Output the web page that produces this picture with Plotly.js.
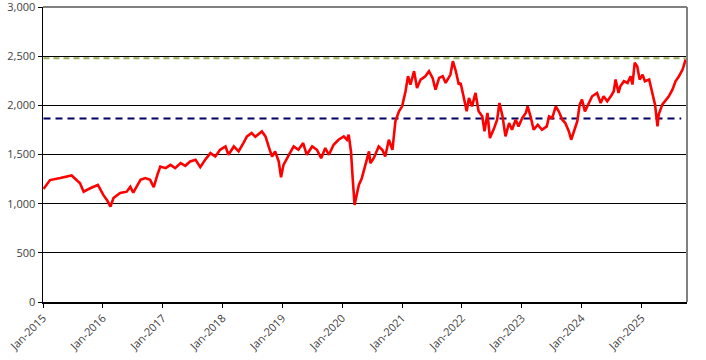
<!DOCTYPE html>
<html>
<head>
<meta charset="utf-8">
<script src="https://cdn.plot.ly/plotly-3.0.1.min.js"></script>
<style>html,body{margin:0;padding:0;background:#fff;}#chart{width:706px;height:360px;}</style>
</head>
<body>
<div id="chart"></div>
<script>
// Time as decimal years
const yearFrac = [
2015.01,2015.12,2015.29,2015.48,2015.62,2015.68,2015.79,2015.92,2016.01,2016.07,
2016.13,2016.18,2016.29,2016.40,2016.46,2016.51,2016.63,2016.71,2016.79,2016.85,
2016.91,2016.96,2017.05,2017.13,2017.21,2017.30,2017.38,2017.46,2017.55,2017.63,
2017.71,2017.80,2017.88,2017.96,2018.05,2018.10,2018.19,2018.27,2018.35,2018.41,
2018.49,2018.55,2018.66,2018.72,2018.77,2018.83,2018.88,2018.94,2018.98,2019.02,
2019.11,2019.19,2019.27,2019.35,2019.41,2019.50,2019.58,2019.65,2019.72,2019.78,
2019.86,2019.94,2020.03,2020.08,2020.11,2020.15,2020.18,2020.21,2020.25,2020.28,
2020.33,2020.39,2020.45,2020.47,2020.53,2020.61,2020.67,2020.72,2020.78,2020.84,
2020.89,2020.95,2021.00,2021.06,2021.10,2021.14,2021.20,2021.25,2021.31,2021.39,
2021.45,2021.51,2021.56,2021.62,2021.68,2021.73,2021.81,2021.85,2021.90,2021.95,
2021.98,2022.03,2022.08,2022.12,2022.17,2022.23,2022.28,2022.34,2022.38,2022.43,
2022.47,2022.54,2022.59,2022.63,2022.68,2022.73,2022.79,2022.84,2022.90,2022.95,
2023.01,2023.07,2023.10,2023.15,2023.20,2023.27,2023.34,2023.42,2023.46,2023.51,
2023.57,2023.62,2023.68,2023.73,2023.79,2023.83,2023.87,2023.93,2023.97,2024.01,
2024.06,2024.12,2024.18,2024.26,2024.32,2024.37,2024.43,2024.49,2024.54,2024.57,
2024.62,2024.65,2024.71,2024.77,2024.82,2024.85,2024.89,2024.93,2024.97,2025.02,
2025.06,2025.13,2025.18,2025.23,2025.27,2025.29,2025.35,2025.41,2025.46,2025.52,
2025.57,2025.63,2025.69,2025.74
];
const seriesValues = [
1150,1240,1260,1286,1208,1122,1157,1190,1089,1038,
970,1058,1109,1122,1173,1112,1242,1260,1242,1167,
1293,1378,1361,1395,1361,1412,1385,1429,1446,1371,
1446,1514,1480,1548,1582,1497,1582,1531,1616,1684,
1718,1680,1735,1684,1582,1480,1531,1429,1269,1395,
1497,1582,1548,1616,1497,1582,1548,1463,1565,1497,
1599,1650,1684,1650,1701,1531,1242,987,1106,1191,
1259,1395,1531,1412,1463,1582,1548,1480,1650,1548,
1837,1939,1990,2143,2296,2211,2347,2177,2262,2296,
2347,2279,2160,2279,2296,2228,2313,2449,2347,2211,
2228,2092,1939,2075,1990,2126,1939,1888,1735,1922,
1667,1769,1854,2024,1888,1684,1820,1752,1854,1786,
1871,1922,1990,1888,1752,1803,1752,1786,1888,1871,
1990,1939,1854,1820,1735,1650,1735,1837,2007,2058,
1939,2024,2092,2126,2024,2092,2041,2092,2143,2262,
2126,2194,2245,2228,2296,2211,2433,2398,2262,2313,
2245,2262,2126,2007,1786,1905,2007,2058,2092,2160,
2245,2296,2364,2466
];
const upperLevel = 2480;
const lowerLevel = 1865;
const yTickVals = [0,500,1000,1500,2000,2500,3000];

function toDate(yf){
  const y = Math.floor(yf);
  const start = Date.UTC(y,0,1), end = Date.UTC(y+1,0,1);
  const d = new Date(start + (yf - y) * (end - start));
  return d.toISOString().slice(0,10);
}
const dates = yearFrac.map(toDate);
const xStart = '2015-01-01', xEnd = '2025-10-06';

const traces = [
  {x:[dates[0], dates[dates.length-1]], y:[upperLevel, upperLevel], mode:'lines',
   line:{color:'#9BAF5A', width:2, dash:'6px,4px'}, hoverinfo:'skip', showlegend:false},
  {x:[dates[0], '2025-09-01'], y:[lowerLevel, lowerLevel], mode:'lines',
   line:{color:'#000066', width:2, dash:'7px,5px'}, hoverinfo:'skip', showlegend:false},
  {x:dates, y:seriesValues, mode:'lines', line:{color:'#FF0000', width:2.6}, showlegend:false}
];

const layout = {
  width:706, height:360,
  margin:{l:43, r:19, t:7, b:58},
  paper_bgcolor:'#fff', plot_bgcolor:'#fff',
  font:{family:'"Open Sans", "DejaVu Sans", sans-serif', size:11, color:'#404040'},
  xaxis:{type:'date', range:[xStart, xEnd], tick0:'2015-01-01', dtick:'M12', tickformat:'%b-%Y',
    tickangle:-45, ticks:'outside', ticklen:4, tickcolor:'#000', showgrid:false,
    showline:true, linecolor:'#000', linewidth:1.5, zeroline:false, fixedrange:true,
    ticklabeloverflow:'allow'},
  yaxis:{range:[0,3000], tickvals:yTickVals, tickformat:',', ticks:'outside', ticklen:4, tickcolor:'#000',
    showgrid:true, gridcolor:'#000', gridwidth:1, showline:true, linecolor:'#000', linewidth:1.5,
    zeroline:false, fixedrange:true, ticklabeloverflow:'allow'},
  shapes:[
    {type:'line', xref:'paper', yref:'paper', x0:0, x1:1, y0:1, y1:1, line:{color:'#808080', width:2}},
    {type:'line', xref:'paper', yref:'paper', x0:1, x1:1, y0:0, y1:1, line:{color:'#808080', width:2}}
  ]
};
Plotly.newPlot('chart', traces, layout, {displayModeBar:false, staticPlot:true});
</script>
</body>
</html>
